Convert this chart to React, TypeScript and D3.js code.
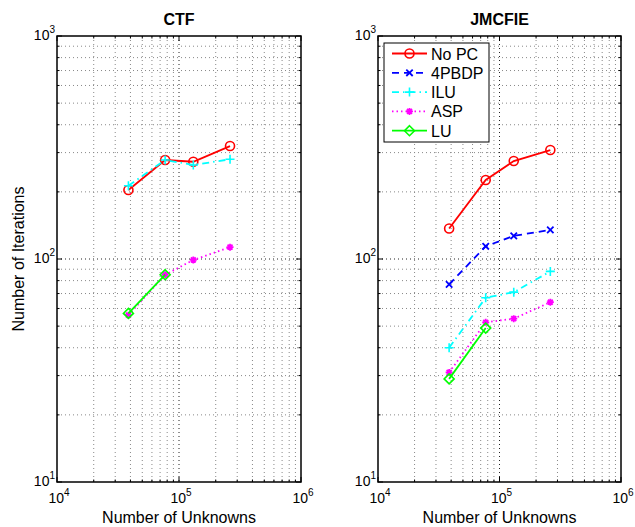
import React, { useRef, useEffect } from "react";
import * as d3 from "d3";

// number of unknowns (x) shared by both panels
const unknowns = [38500, 77000, 131000, 262000];

// CTF panel
const ctfNoPC = [204, 278, 273, 321];
const ctfILU = [213, 278, 264, 280];
const ctfASP = [56, 85, 99, 113];
const ctfLU = [57, 85];

// JMCFIE panel
const jmNoPC = [137, 226, 275, 308];
const jm4PBDP = [77, 114, 127, 135];
const jmILU = [40, 67, 71, 88];
const jmASP = [31, 52, 54, 64];
const jmLU = [29, 49];

const seriesNames = ["No PC", "4PBDP", "ILU", "ASP", "LU"];
const panelTitles = ["CTF", "JMCFIE"];
const decadesX = [1e4, 1e5, 1e6];
const decadesY = [1e1, 1e2, 1e3];

const styles = {
  "No PC": { color: "#ff0000", dash: null, marker: "circle" },
  "4PBDP": { color: "#0000ff", dash: "7,5", marker: "x" },
  ILU: { color: "#00ffff", dash: "7,4,1.5,4", marker: "plus" },
  ASP: { color: "#ff00ff", dash: "1.5,3", marker: "star" },
  LU: { color: "#00ff00", dash: null, marker: "diamond" },
};

const drawMarker = (g, type, x, y, color) => {
  if (type === "circle") {
    g.append("circle").attr("cx", x).attr("cy", y).attr("r", 4.5)
      .attr("fill", "none").attr("stroke", color).attr("stroke-width", 1.6);
  } else if (type === "diamond") {
    const s = 5;
    g.append("path")
      .attr("d", `M${x},${y - s}L${x + s},${y}L${x},${y + s}L${x - s},${y}Z`)
      .attr("fill", "none").attr("stroke", color).attr("stroke-width", 1.6);
  } else if (type === "plus") {
    const s = 4.5;
    g.append("path").attr("d", `M${x - s},${y}H${x + s}M${x},${y - s}V${y + s}`)
      .attr("stroke", color).attr("stroke-width", 1.6);
  } else if (type === "x") {
    const s = 3.2;
    g.append("path")
      .attr("d", `M${x - s},${y - s}L${x + s},${y + s}M${x - s},${y + s}L${x + s},${y - s}`)
      .attr("stroke", color).attr("stroke-width", 1.8);
  } else if (type === "star") {
    const s = 3.5;
    let d = "";
    [0, 45, 90, 135].forEach((a) => {
      const r = (a * Math.PI) / 180;
      d += `M${x - s * Math.cos(r)},${y - s * Math.sin(r)}L${x + s * Math.cos(r)},${y + s * Math.sin(r)}`;
    });
    g.append("path").attr("d", d).attr("stroke", color).attr("stroke-width", 1.8);
  }
};

const powLabel = (sel, exp) => {
  sel.append("tspan").text("10");
  sel.append("tspan").attr("dy", -7).style("font-size", "10px").text(String(exp));
};

const App = () => {
  const svgRef = useRef();

  useEffect(() => {
    const svg = d3.select(svgRef.current);
    svg.selectAll("*").remove();

    const top = 36;
    const bottom = 482;
    const panels = [
      { left: 57, right: 301, data: { "No PC": ctfNoPC, ILU: ctfILU, ASP: ctfASP, LU: ctfLU } },
      {
        left: 378,
        right: 621,
        data: { "No PC": jmNoPC, "4PBDP": jm4PBDP, ILU: jmILU, ASP: jmASP, LU: jmLU },
        legend: true,
      },
    ];

    const font = "Arial, 'Liberation Sans', Helvetica, sans-serif";

    panels.forEach((p, pi) => {
      const x = d3.scaleLog().domain([1e4, 1e6]).range([p.left, p.right]);
      const y = d3.scaleLog().domain([1e1, 1e3]).range([bottom, top]);
      const g = svg.append("g");

      // minor + major grid
      const minorX = [];
      const minorY = [];
      [1e4, 1e5].forEach((d) => {
        for (let k = 2; k <= 9; k++) minorX.push(d * k);
      });
      [1e1, 1e2].forEach((d) => {
        for (let k = 2; k <= 9; k++) minorY.push(d * k);
      });

      minorX.forEach((v) => {
        g.append("line").attr("x1", x(v)).attr("x2", x(v)).attr("y1", top).attr("y2", bottom)
          .attr("stroke", "#888").attr("stroke-dasharray", "1,3");
      });
      minorY.forEach((v) => {
        g.append("line").attr("x1", p.left).attr("x2", p.right).attr("y1", y(v)).attr("y2", y(v))
          .attr("stroke", "#888").attr("stroke-dasharray", "1,3");
      });
      g.append("line").attr("x1", x(1e5)).attr("x2", x(1e5)).attr("y1", top).attr("y2", bottom)
        .attr("stroke", "#222").attr("stroke-dasharray", "1,3");
      g.append("line").attr("x1", p.left).attr("x2", p.right).attr("y1", y(1e2)).attr("y2", y(1e2))
        .attr("stroke", "#222").attr("stroke-dasharray", "1,3");

      // tick marks on all sides
      const tick = (x1, y1, x2, y2) =>
        g.append("line").attr("x1", x1).attr("y1", y1).attr("x2", x2).attr("y2", y2)
          .attr("stroke", "#000").attr("stroke-width", 1);
      decadesX.forEach((v) => {
        tick(x(v), bottom, x(v), bottom - 5);
        tick(x(v), top, x(v), top + 5);
      });
      minorX.forEach((v) => {
        tick(x(v), bottom, x(v), bottom - 2.5);
        tick(x(v), top, x(v), top + 2.5);
      });
      decadesY.forEach((v) => {
        tick(p.left, y(v), p.left + 5, y(v));
        tick(p.right, y(v), p.right - 5, y(v));
      });
      minorY.forEach((v) => {
        tick(p.left, y(v), p.left + 2.5, y(v));
        tick(p.right, y(v), p.right - 2.5, y(v));
      });

      // frame
      g.append("rect").attr("x", p.left).attr("y", top)
        .attr("width", p.right - p.left).attr("height", bottom - top)
        .attr("fill", "none").attr("stroke", "#000").attr("stroke-width", 1.5);

      // tick labels
      decadesX.forEach((v) => {
        const t = g.append("text").attr("x", x(v) + 2).attr("y", 503)
          .attr("text-anchor", "middle").style("font-family", font).style("font-size", "14px");
        powLabel(t, Math.round(Math.log10(v)));
      });
      decadesY.forEach((v) => {
        const t = g.append("text").attr("x", p.left - 2).attr("y", y(v) + 4)
          .attr("text-anchor", "end").style("font-family", font).style("font-size", "14px");
        powLabel(t, Math.round(Math.log10(v)));
      });

      // title and axis label
      g.append("text").attr("x", (p.left + p.right) / 2).attr("y", 25)
        .attr("text-anchor", "middle").style("font-family", font)
        .style("font-size", "16px").style("font-weight", 700).text(panelTitles[pi]);
      g.append("text").attr("x", (p.left + p.right) / 2).attr("y", 523)
        .attr("text-anchor", "middle").style("font-family", font)
        .style("font-size", "16px").text("Number of Unknowns");

      // series
      seriesNames.forEach((name) => {
        const vals = p.data[name];
        if (!vals) return;
        const st = styles[name];
        const pts = vals.map((v, i) => [x(unknowns[i]), y(v)]);
        g.append("path").attr("d", d3.line()(pts)).attr("fill", "none")
          .attr("stroke", st.color).attr("stroke-width", 1.8)
          .attr("stroke-dasharray", st.dash);
        pts.forEach(([px, py]) => drawMarker(g, st.marker, px, py, st.color));
      });

      if (p.legend) {
        const lx = 384;
        const ly = 43;
        g.append("rect").attr("x", lx).attr("y", ly).attr("width", 105).attr("height", 99)
          .attr("fill", "#fff").attr("stroke", "#000").attr("stroke-width", 1);
        seriesNames.forEach((name, i) => {
          const st = styles[name];
          const ey = 53.5 + i * 19.3;
          g.append("line").attr("x1", lx + 8).attr("x2", lx + 43).attr("y1", ey).attr("y2", ey)
            .attr("stroke", st.color).attr("stroke-width", 1.8)
            .attr("stroke-dasharray", st.dash);
          drawMarker(g, st.marker, lx + 25.5, ey, st.color);
          g.append("text").attr("x", lx + 47).attr("y", ey + 6)
            .style("font-family", font).style("font-size", "16px").text(name);
        });
      }
    });

    svg.append("text")
      .attr("transform", "translate(24,259) rotate(-90)")
      .attr("text-anchor", "middle").style("font-family", font)
      .style("font-size", "16px").text("Number of Iterations");
  }, []);

  return (
    <svg
      ref={svgRef}
      width={635}
      height={527}
      style={{ position: "absolute", left: 0, top: 0, background: "white" }}
    ></svg>
  );
};

export default App;
